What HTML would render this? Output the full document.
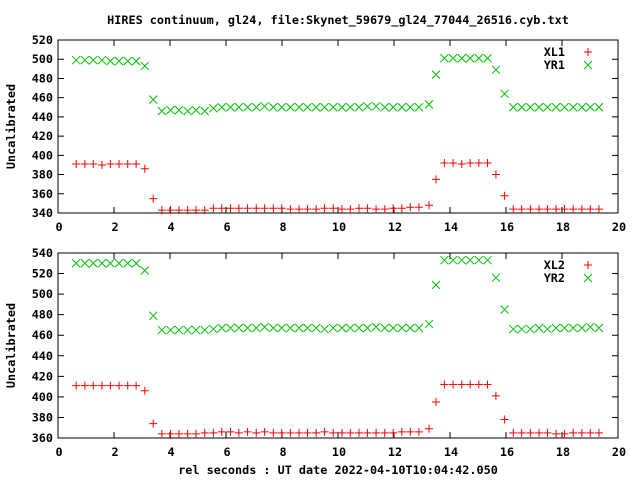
<!DOCTYPE html>
<html><head><meta charset="utf-8"><style>
body{margin:0;background:#fff}
svg text{font-family:"DejaVu Sans Mono","Liberation Mono",monospace;font-size:11.8px;font-weight:bold;fill:#000}
</style></head><body>
<svg id="c" width="640" height="480" xmlns="http://www.w3.org/2000/svg">
<text x="338" y="24" text-anchor="middle">HIRES continuum, gl24, file:Skynet_59679_gl24_77044_26516.cyb.txt</text>
<text x="338" y="474" text-anchor="middle">rel seconds : UT date 2022-04-10T10:04:42.050</text>
</svg>
<script>
const times=[0.65,0.96,1.26,1.57,1.87,2.18,2.49,2.79,3.10,3.40,3.71,4.02,4.32,4.63,4.93,5.24,5.55,5.85,6.16,6.46,6.77,7.08,7.38,7.69,7.99,8.30,8.61,8.91,9.22,9.52,9.83,10.14,10.44,10.75,11.05,11.36,11.67,11.97,12.28,12.58,12.89,13.25,13.50,13.80,14.11,14.42,14.72,15.03,15.34,15.64,15.95,16.26,16.56,16.87,17.18,17.48,17.79,18.09,18.40,18.71,19.01,19.32];
const xl1=[391,391,391,390,391,391,391,391,386,355,343,343,343,343,343,343,345,345,345,345,345,345,345,345,345,344,344,344,344,345,345,344,344,345,345,344,344,345,345,346,346,348,375,392,392,391,392,392,392,380,358,344,344,344,344,344,344,344,344,344,344,344];
const yr1=[499,499,499,499,498,498,498,498,493,458,446,447,447,446,447,446,449,450,450,450,450,450,451,450,450,450,450,450,450,450,450,450,450,450,451,451,450,450,450,450,450,453,484,501,501,501,501,501,501,489,464,450,450,450,450,450,450,450,450,450,450,450];
const xl2=[411,411,411,411,411,411,411,411,406,374,364,364,364,364,364,365,365,366,366,365,366,365,366,365,365,365,365,365,365,366,365,365,365,365,365,365,365,365,366,366,366,369,395,412,412,412,412,412,412,401,378,365,365,365,365,365,364,364,365,365,365,365];
const yr2=[530,530,530,530,530,530,530,530,523,479,465,465,465,465,465,465,466,467,467,467,467,467,468,467,467,467,467,467,467,466,467,467,467,467,467,468,467,467,467,467,467,471,509,533,533,533,533,533,533,516,485,466,466,466,467,466,467,467,467,467,468,467];
const xTicks=[0,2,4,6,8,10,12,14,16,18,20];
const yTicksTop=[340,360,380,400,420,440,460,480,500,520];
const yTicksBot=[360,380,400,420,440,460,480,500,520,540];
const NS="http://www.w3.org/2000/svg";
const svg=document.getElementById('c');
function mk(t,a){const e=document.createElementNS(NS,t);for(const k in a)e.setAttribute(k,a[k]);svg.appendChild(e);return e;}
function panel(top,bot,ymin,ymax,yTicks,s1,s2,n1,n2,pfx){
  const L=58,R=618;
  const X=v=>L+(v-0)/20*(R-L);
  const Y=v=>bot-(v-ymin)/(ymax-ymin)*(bot-top);
  const fr=mk('rect',{x:L,y:top,width:R-L,height:bot-top,fill:'none',stroke:'#000','stroke-width':1});
  
  
  xTicks.forEach(t=>{
    const x=X(t);
    const a=mk('path',{d:`M${x},${bot}v-6M${x},${top}v6`,stroke:'#000'});
    
    
    const tx=mk('text',{x:x+1,y:bot+18,'text-anchor':'middle'});tx.textContent=t;
    
    
  });
  yTicks.forEach(t=>{
    const y=Y(t);
    const a=mk('path',{d:`M${L},${y}h6M${R},${y}h-6`,stroke:'#000'});
    
    
    const tx=mk('text',{x:L-5,y:y+4,'text-anchor':'end'});tx.textContent=t;
    
    
  });
  const yl=mk('text',{x:15,y:(top+bot)/2,'text-anchor':'middle',transform:`rotate(-90 15 ${(top+bot)/2})`});
  yl.textContent='Uncalibrated';
  
  
  const plus=(x,y)=>`M${x-4},${y}h8M${x},${y-4}v8`;
  const cross=(x,y)=>`M${x-4},${y-4}l8,8M${x-4},${y+4}l8,-8`;
  let d1='',d2='';
  times.forEach((t,i)=>{d1+=plus(X(t),Y(s1[i]));d2+=cross(X(t),Y(s2[i]));});
  const p1=mk('path',{d:d1,stroke:'#ff0000','stroke-width':1,fill:'none'});
  
  
  const p2=mk('path',{d:d2,stroke:'#00c000','stroke-width':1,fill:'none'});
  
  
  [[n1,plus,'#ff0000'],[n2,cross,'#00c000']].forEach((e,k)=>{
    const y=top+12+k*13;
    const tx=mk('text',{x:565,y:y+4,'text-anchor':'end'});tx.textContent=e[0];
    
    
    const m=mk('path',{d:e[1](588,y),stroke:e[2],fill:'none'});
    
    
  });
}
panel(40,213,340,520,yTicksTop,xl1,yr1,'XL1','YR1','top');
panel(253,438,360,540,yTicksBot,xl2,yr2,'XL2','YR2','bottom');
</script>
</body></html>
